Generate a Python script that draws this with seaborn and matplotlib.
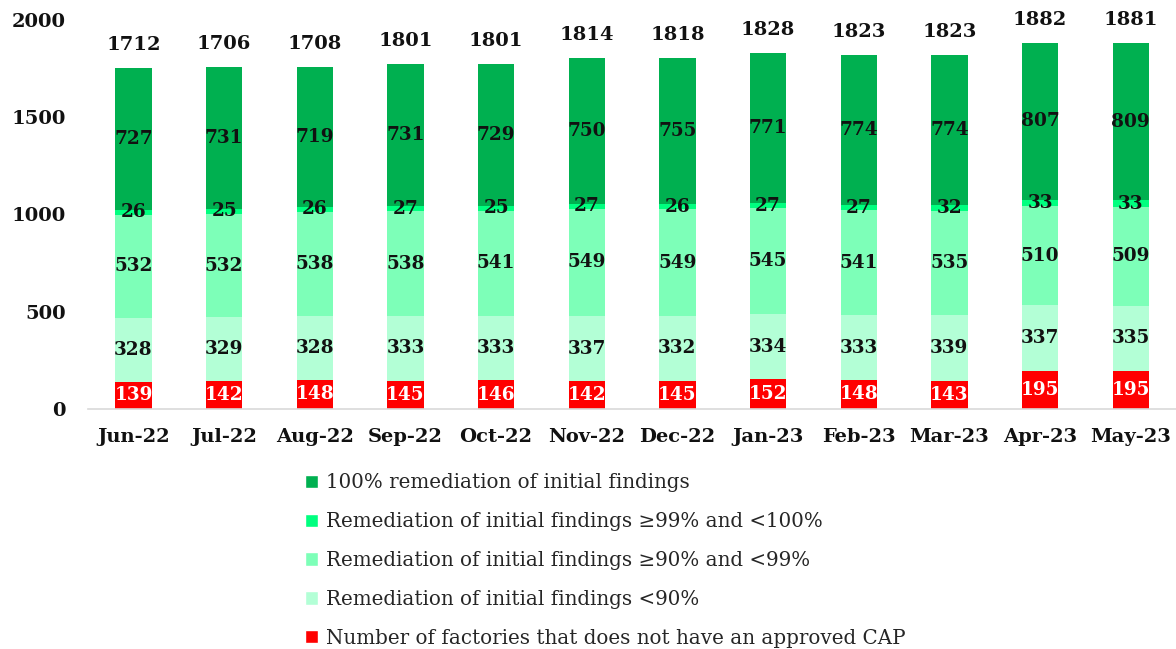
import numpy as np
import pandas as pd
import seaborn as sns
import matplotlib.pyplot as plt
from matplotlib.patches import Patch

# Chart data
#-------------------------------------------------------------------------------------------------#
months = ["Jun-22", "Jul-22", "Aug-22", "Sep-22", "Oct-22", "Nov-22",
          "Dec-22", "Jan-23", "Feb-23", "Mar-23", "Apr-23", "May-23"]
no_cap = [139, 142, 148, 145, 146, 142, 145, 152, 148, 143, 195, 195]
below_90 = [328, 329, 328, 333, 333, 337, 332, 334, 333, 339, 337, 335]
from_90_to_99 = [532, 532, 538, 538, 541, 549, 549, 545, 541, 535, 510, 509]
from_99_to_100 = [26, 25, 26, 27, 25, 27, 26, 27, 27, 32, 33, 33]
full_100 = [727, 731, 719, 731, 729, 750, 755, 771, 774, 774, 807, 809]
totals = [1712, 1706, 1708, 1801, 1801, 1814, 1818, 1828, 1823, 1823, 1882, 1881]

series = [
    ("Number of factories that does not have an approved CAP", no_cap, "#FF0000", "white"),
    ("Remediation of initial findings <90%", below_90, "#B3FFD6", "#111111"),
    ("Remediation of initial findings \u226590% and <99%", from_90_to_99, "#7DFFB8", "#111111"),
    ("Remediation of initial findings \u226599% and <100%", from_99_to_100, "#00FF7F", "#111111"),
    ("100% remediation of initial findings", full_100, "#00B050", "#111111"),
]

sns.set_style("white")
plt.rcParams['font.family'] = ['DejaVu Serif']

fig = plt.figure(figsize=(11.76, 6.49), dpi=100)
ax = fig.add_axes([0.075, 0.37, 0.925, 0.599])

bottom = np.zeros(len(months))
for name, vals, color, txt in series:
    df = pd.DataFrame({"month": months, "value": vals})
    sns.barplot(data=df, x="month", y="value", color=color, width=0.4,
                bottom=bottom, ax=ax, saturation=1, linewidth=0)
    for i, v in enumerate(vals):
        ax.text(i, bottom[i] + v / 2, str(v), ha="center", va="center",
                fontsize=13.3, fontweight="bold", color=txt)
    bottom = bottom + np.array(vals)

# total labels above each bar
for i, t in enumerate(totals):
    ax.annotate(str(t), (i, bottom[i]), xytext=(0, 10), textcoords="offset points",
                ha="center", va="bottom", fontsize=14, fontweight="bold", color="#111111")

ax.set_ylim(0, 2000)
ax.set_xlim(-0.5, len(months) - 0.5)
ax.set_yticks([0, 500, 1000, 1500, 2000])
ax.set_xlabel("")
ax.set_ylabel("")
for s in ["top", "right", "left"]:
    ax.spines[s].set_visible(False)
ax.spines["bottom"].set_color("#d9d9d9")
ax.spines["bottom"].set_linewidth(1.2)
ax.set_xticks(np.arange(-0.5, len(months)), minor=True)
ax.tick_params(axis="x", which="minor", length=6, color="#d9d9d9", width=1.2)
ax.tick_params(axis="x", which="major", length=0, pad=14)
ax.tick_params(axis="y", length=0, pad=16)
for lbl in ax.get_xticklabels() + ax.get_yticklabels():
    lbl.set_fontweight("bold")
    lbl.set_fontsize(14)
    lbl.set_color("#111111")

handles = [Patch(facecolor=c, label=n) for n, _, c, _ in series][::-1]
fig.legend(handles=handles, loc="upper left", bbox_to_anchor=(0.253, 0.283),
           frameon=False, fontsize=14.3, labelspacing=1.0, handlelength=0.65,
           handleheight=0.65, handletextpad=0.4, borderaxespad=0)

fig.savefig("out.png", dpi=100)
